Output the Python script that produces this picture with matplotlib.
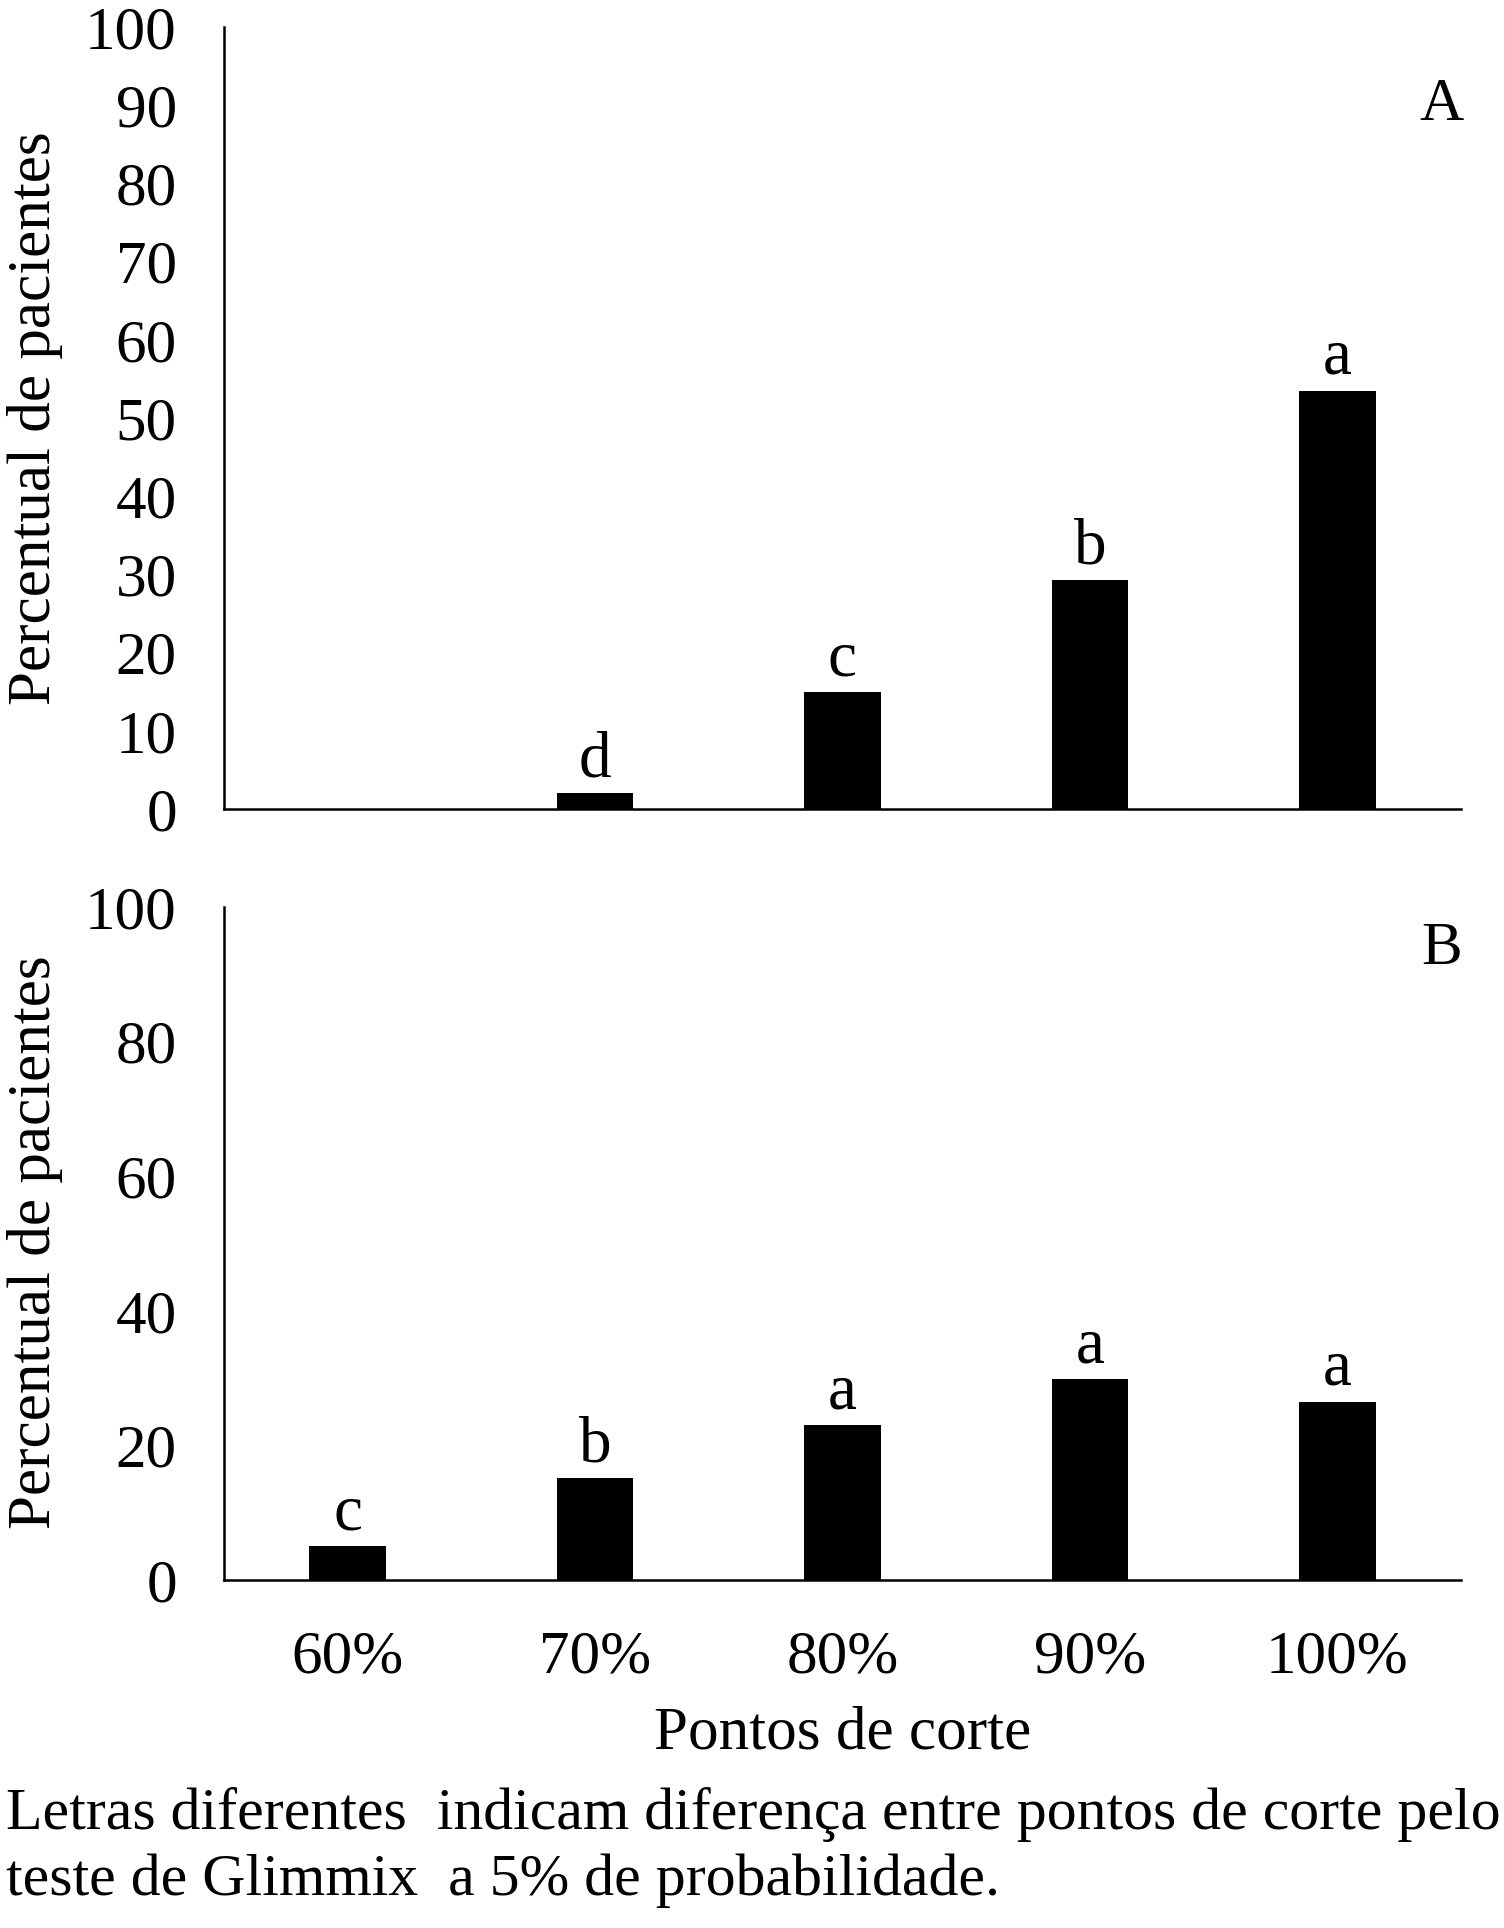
import matplotlib
matplotlib.use("Agg")
import matplotlib.pyplot as plt

plt.rcParams['font.family'] = ['Liberation Serif', 'DejaVu Serif']

categorias = ["60%", "70%", "80%", "90%", "100%"]
valores_a = [0, 2, 15, 29.3, 53.5]
letras_a = ["", "d", "c", "b", "a"]
valores_b = [5.1, 15.2, 23, 29.8, 26.5]
letras_b = ["c", "b", "a", "a", "a"]

W, H = 1504, 1928
fig = plt.figure(figsize=(W / 100, H / 100), dpi=100)

ax_a = fig.add_axes([224 / W, 1 - 809 / H, 1237 / W, 782 / H])
ax_b = fig.add_axes([224 / W, 1 - 1580 / H, 1237 / W, 673 / H])

fs = 44


def desenha(ax, valores, letras, passo, painel, y_painel):
    x = range(len(categorias))
    ax.bar(x, valores, width=0.31, color="black")
    for i, (v, l) in enumerate(zip(valores, letras)):
        if l:
            ax.annotate(l, (i, v), xytext=(0, 12), textcoords="offset points",
                        ha="center", va="baseline", fontsize=47)
    ax.set_xlim(-0.5, len(categorias) - 0.5)
    ax.set_ylim(0, 100)
    ax.set_yticks(range(0, 101, passo))
    ax.tick_params(axis="both", length=0, labelsize=fs)
    ax.tick_params(axis="y", pad=34)
    ax.spines["top"].set_visible(False)
    ax.spines["right"].set_visible(False)
    ax.spines["left"].set_linewidth(1.8)
    ax.spines["bottom"].set_linewidth(1.8)
    ax.text(0.984, y_painel, painel, transform=ax.transAxes,
            ha="center", va="center", fontsize=fs)


desenha(ax_a, valores_a, letras_a, 10, "A", 0.900)
ax_a.set_xticks(range(len(categorias)))
ax_a.set_xticklabels([])

desenha(ax_b, valores_b, letras_b, 20, "B", 0.9376)
ax_b.set_xticks(range(len(categorias)))
ax_b.set_xticklabels(categorias)
ax_b.tick_params(axis="x", pad=36)

fig.text(35 / W, 1 - 418 / H, "Percentual de pacientes", rotation=90,
         ha="center", va="center", fontsize=fs)
fig.text(35 / W, 1 - 1242 / H, "Percentual de pacientes", rotation=90,
         ha="center", va="center", fontsize=fs)
fig.text(843 / W, 1 - 1734 / H, "Pontos de corte", ha="center", va="center",
         fontsize=fs)
fig.text(6 / W, 1 - 1814 / H,
         "Letras diferentes  indicam diferença entre pontos de corte pelo",
         ha="left", va="center", fontsize=43)
fig.text(6 / W, 1 - 1881 / H, "teste de Glimmix  a 5% de probabilidade.",
         ha="left", va="center", fontsize=43)

fig.savefig("out.png", dpi=100, facecolor="white")
